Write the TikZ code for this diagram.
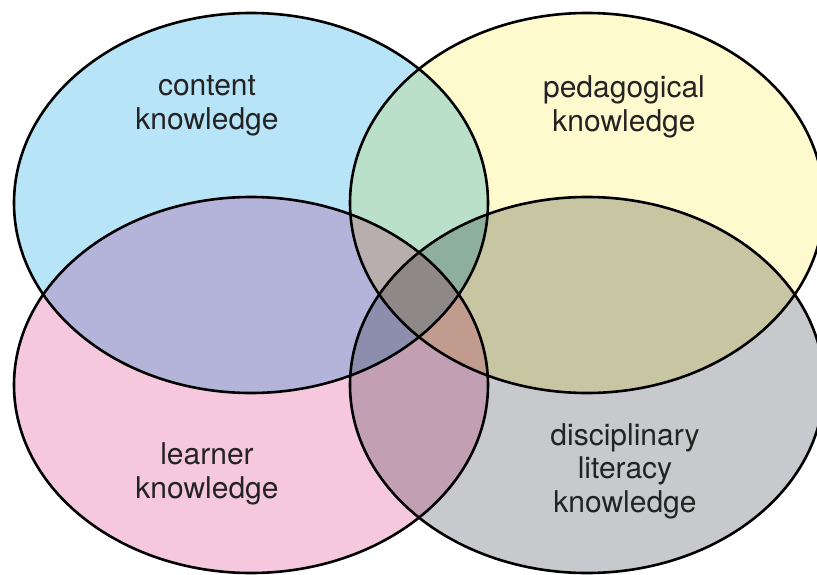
\documentclass[tikz,border=0pt]{standalone}
\usepackage{fontspec}
\setmainfont{TeX Gyre Heros}
% set colours and their overlaps (multiplied)
\definecolor{ckblue}{RGB}{184,228,248}
\definecolor{pkyellow}{RGB}{255,250,206}
\definecolor{lkpink}{RGB}{246,200,222}
\definecolor{dlkgray}{RGB}{200,201,204}
\definecolor{ckpk}{RGB}{186,224,202}
\definecolor{cklk}{RGB}{180,179,217}
\definecolor{ckdlk}{RGB}{144,180,198}
\definecolor{pklk}{RGB}{246,196,179}
\definecolor{pkdlk}{RGB}{200,197,163}
\definecolor{lkdlk}{RGB}{194,159,179}
\definecolor{ckpklk}{RGB}{185,174,174}
\definecolor{ckpkdlk}{RGB}{142,174,158}
\definecolor{cklkdlk}{RGB}{141,141,173}
\definecolor{pklkdlk}{RGB}{194,155,143}
\definecolor{allfour}{RGB}{142,136,137}
\definecolor{labelink}{RGB}{35,35,35}
\newcommand{\ellCK}{(251,203) ellipse (237 and 190)}
\newcommand{\ellPK}{(587,203) ellipse (237 and 190)}
\newcommand{\ellLK}{(251,385) ellipse (237 and 188)}
\newcommand{\ellDLK}{(587,385) ellipse (237 and 188)}
\tikzset{every picture/.style={line width=2.6pt}}
\tikzset{setlabel/.style={align=center,inner sep=0.75pt,text=labelink,font=\fontsize{30}{33.5}\selectfont}}

\begin{document}
\begin{tikzpicture}[x=1pt,y=1pt,yscale=-1,xscale=1]
\useasboundingbox (0,0) rectangle (817,575);

%Shape: Ellipse fills
\fill [ckblue] \ellCK;
\fill [pkyellow] \ellPK;
\fill [lkpink] \ellLK;
\fill [dlkgray] \ellDLK;
%Overlaps of two
\begin{scope} \clip \ellCK; \fill [ckpk] \ellPK; \fill [cklk] \ellLK; \fill [ckdlk] \ellDLK; \end{scope}
\begin{scope} \clip \ellPK; \fill [pklk] \ellLK; \fill [pkdlk] \ellDLK; \end{scope}
\begin{scope} \clip \ellLK; \fill [lkdlk] \ellDLK; \end{scope}
%Overlaps of three
\begin{scope} \clip \ellCK; \clip \ellPK; \fill [ckpklk] \ellLK; \fill [ckpkdlk] \ellDLK; \end{scope}
\begin{scope} \clip \ellCK; \clip \ellLK; \fill [cklkdlk] \ellDLK; \end{scope}
\begin{scope} \clip \ellPK; \clip \ellLK; \fill [pklkdlk] \ellDLK; \end{scope}
%Overlap of all four
\begin{scope} \clip \ellCK; \clip \ellPK; \clip \ellLK; \fill [allfour] \ellDLK; \end{scope}
%Shape: Ellipse outlines
\draw \ellCK;
\draw \ellPK;
\draw \ellLK;
\draw \ellDLK;

% Text Node
\node [setlabel] (content) at (207,106) {content\\knowledge};
% Text Node
\node [setlabel] (pedagogical) at (624,107) {pedagogical\\knowledge};
% Text Node
\node [setlabel] (learner) at (207,474) {learner\\knowledge};
% Text Node
\node [setlabel] (disciplinary) at (625,471) {disciplinary\\literacy\\knowledge};

\end{tikzpicture}
\end{document}
